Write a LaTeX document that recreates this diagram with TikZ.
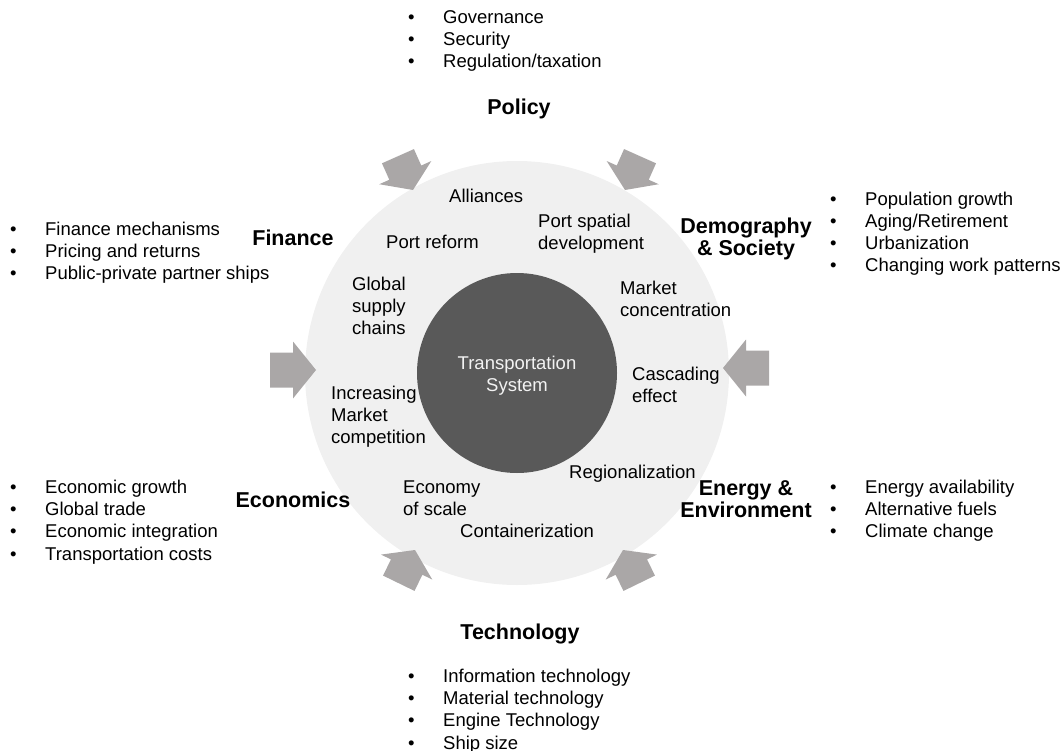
\documentclass[tikz,border=0pt]{standalone}
\usepackage{fontspec}
\setmainfont{Liberation Sans}
\definecolor{outerfill}{RGB}{240,240,240}
\definecolor{innerfill}{RGB}{89,89,89}
\definecolor{arrowfill}{RGB}{170,167,167}
\definecolor{coretext}{RGB}{242,242,242}
\newcommand\bitem{\makebox[35pt][l]{•}}
\begin{document}
\begin{tikzpicture}[x=1pt,y=-1pt,
  txt/.style={font=\fontsize{18.5}{22.2}\selectfont, inner sep=0pt, align=left, anchor=base west},
  head/.style={font=\fontsize{21.5}{22.2}\selectfont\bfseries, inner sep=0pt, align=center, anchor=base},
  fatarrow/.style={fill=arrowfill, draw=none}]
\useasboundingbox (0,0) rectangle (1062,751);
% circles
\node[circle, fill=outerfill, minimum size=424pt, inner sep=0pt] (outer) at (517,373) {};
\node[circle, fill=innerfill, minimum size=200pt, inner sep=0pt] (core) at (517,373) {};
\node[txt, align=center, anchor=base, text=coretext] (coretxt) at (517,391.5) {Transportation\\System};
% arrows
\foreach \tx/\ty/\ang/\hl/\bl in {316/370/0/23/23, 723/368/180/23/23,
    413/190/-66/19/18, 625/190/-114/19/18, 415/550/64/19/18, 623/550/116/19/18}{
  \fill[fatarrow, shift={(\tx,\ty)}, rotate=\ang]
    (0,0) -- (-\hl,28.5) -- (-\hl,17.5) -- ({-\hl-\bl},17.5) -- ({-\hl-\bl},-17.5)
    -- (-\hl,-17.5) -- (-\hl,-28.5) -- cycle;
}
% inner labels (base anchor = baseline of last line)
\node[txt] (alliances) at (449,202.5) {Alliances};
\node[txt] (portreform) at (386,248.5) {Port reform};
\node[txt] (portspatial) at (538,249.7) {Port spatial\\development};
\node[txt] (supply) at (352,334.9) {Global\\supply\\chains};
\node[txt] (concentration) at (620,316.7) {Market\\concentration};
\node[txt] (cascading) at (632,402.7) {Cascading\\effect};
\node[txt] (competition) at (331,443.9) {Increasing\\Market\\competition};
\node[txt] (regional) at (569,478.5) {Regionalization};
\node[txt] (economy) at (403,515.7) {Economy\\of scale};
\node[txt] (container) at (460,537.5) {Containerization};
% headings
\node[head] (policy) at (519,115) {Policy};
\node[head] (finance) at (293,246) {Finance};
\node[head] (demography) at (746,255.5) {Demography\\\& Society};
\node[head] (economics) at (293,507) {Economics};
\node[head] (energy) at (746,517.7) {Energy \&\\Environment};
\node[head] (technology) at (520,639) {Technology};
% bullet lists
\node[txt] (policylist) at (408,67.7) {\bitem Governance\\\bitem Security\\\bitem Regulation/taxation};
\node[txt] (financelist) at (10,279.9) {\bitem Finance mechanisms\\\bitem Pricing and returns\\\bitem Public-private partner ships};
\node[txt] (demolist) at (830,271.6) {\bitem Population growth\\\bitem Aging/Retirement\\\bitem Urbanization\\\bitem Changing work patterns};
\node[txt] (econlist) at (10,560.1) {\bitem Economic growth\\\bitem Global trade\\\bitem Economic integration\\\bitem Transportation costs};
\node[txt] (energylist) at (830,537.9) {\bitem Energy availability\\\bitem Alternative fuels\\\bitem Climate change};
\node[txt] (techlist) at (408,749.1) {\bitem Information technology\\\bitem Material technology\\\bitem Engine Technology\\\bitem Ship size};
\end{tikzpicture}
\end{document}
